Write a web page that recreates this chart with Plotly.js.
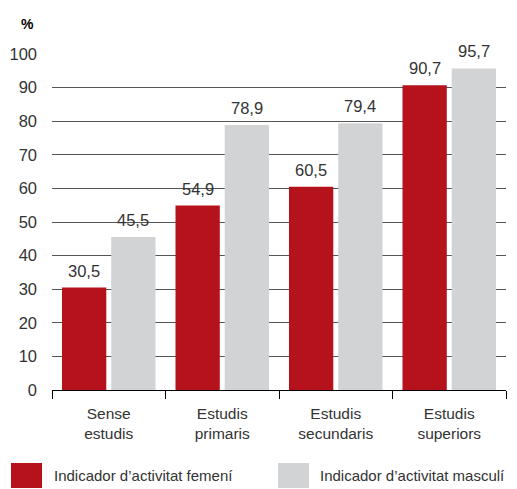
<!DOCTYPE html>
<html>
<head>
<meta charset="utf-8">
<script src="https://cdn.plot.ly/plotly-3.0.1.min.js"></script>
<style>body{margin:0;padding:0;background:#fff}#chart{width:517px;height:489px}</style>
</head>
<body>
<div id="chart"></div>
<script>
const categories = ["Sense<br>estudis", "Estudis<br>primaris", "Estudis<br>secundaris", "Estudis<br>superiors"];
const femeni = [30.5, 54.9, 60.5, 90.7];
const masculi = [45.5, 78.9, 79.4, 95.7];
const seriesNames = ["Indicador d’activitat femení", "Indicador d’activitat masculí"];
const yTicks = [0, 10, 20, 30, 40, 50, 60, 70, 80, 90, 100];
const unitLabel = "%";

const RED = "#B5121B", GRAY = "#D1D3D4", TXT = "#333333";
const FONT = "Liberation Sans, Arial, sans-serif";
const fmt = v => v.toFixed(1).replace(".", ",");

const traces = [
  {type: "bar", x: categories, y: femeni, name: seriesNames[0], marker: {color: RED}, hoverinfo: "skip"},
  {type: "bar", x: categories, y: masculi, name: seriesNames[1], marker: {color: GRAY}, hoverinfo: "skip"}
];

const BAR_OFFSET = 24.6; // pixel offset of each bar centre from category centre
const valueLabels = [];
[femeni, masculi].forEach((series, si) => {
  series.forEach((v, i) => {
    valueLabels.push({
      xref: "x", yref: "y", x: categories[i], y: v, xshift: (si === 0 ? -1 : 1) * BAR_OFFSET,
      yshift: 6, xanchor: "center", yanchor: "bottom", showarrow: false,
      text: fmt(v), font: {family: FONT, size: 16.5, color: TXT}
    });
  });
});

const layout = {
  width: 517, height: 489,
  margin: {l: 52, r: 11, t: 54, b: 99},
  paper_bgcolor: "#fff", plot_bgcolor: "#fff",
  showlegend: false,
  barmode: "group", bargap: 0.133, bargroupgap: 0.1,
  font: {family: FONT, size: 15, color: TXT},
  xaxis: {
    type: "category", tickson: "boundaries", ticks: "outside", ticklen: 8, tickcolor: "#000",
    showline: true, linecolor: "#000", linewidth: 1, showgrid: false,
    ticklabelstandoff: 9,
    tickfont: {family: FONT, size: 15.5, color: TXT}
  },
  yaxis: {
    range: [0, 100], tickvals: yTicks, showgrid: true, gridcolor: "#555", gridwidth: 1,
    zeroline: true, zerolinecolor: "#000", zerolinewidth: 1, showline: false, ticks: "",
    ticklabelstandoff: 14, tickfont: {family: FONT, size: 16.5, color: TXT}
  },
  annotations: valueLabels.concat([
    {xref: "paper", yref: "paper", x: 0, xshift: -16, y: 1.0, yshift: 30, xanchor: "right", yanchor: "middle",
     text: "<b>" + unitLabel + "</b>", showarrow: false, font: {family: FONT, size: 14, color: "#000"}},
    {xref: "paper", yref: "paper", x: 0, y: 0, yshift: -85, xanchor: "left", yanchor: "middle",
     text: seriesNames[0], showarrow: false, font: {family: FONT, size: 15, color: TXT}},
    {xref: "paper", yref: "paper", x: 0.5, xshift: 39, y: 0, yshift: -85, xanchor: "left", yanchor: "middle",
     text: seriesNames[1], showarrow: false, font: {family: FONT, size: 15, color: TXT}}
  ]),
  shapes: [
    {type: "rect", xref: "paper", yref: "paper", xsizemode: "pixel", xanchor: 0, x0: -41, x1: -10,
     ysizemode: "pixel", yanchor: 0, y0: -73, y1: -98, fillcolor: RED, line: {width: 0}},
    {type: "rect", xref: "paper", yref: "paper", xsizemode: "pixel", xanchor: 0, x0: 226, x1: 257,
     ysizemode: "pixel", yanchor: 0, y0: -73, y1: -98, fillcolor: GRAY, line: {width: 0}}
  ]
};

Plotly.newPlot("chart", traces, layout, {displayModeBar: false, staticPlot: true});
</script>
</body>
</html>
